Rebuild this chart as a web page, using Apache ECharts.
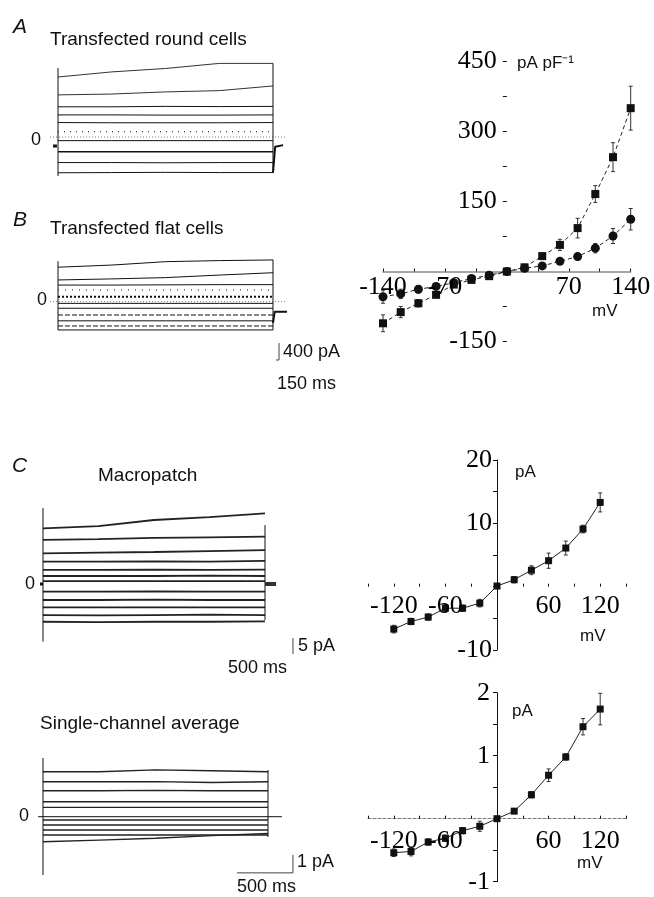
<!DOCTYPE html>
<html>
<head>
<meta charset="utf-8">
<script src="https://cdn.jsdelivr.net/npm/echarts@6/dist/echarts.min.js"></script>
<style>
  html, body { margin: 0; padding: 0; background: #fff; }
  #chart { width: 654px; height: 897px; }
</style>
</head>
<body>
<div id="chart"></div>
<script>
// ---- I-V data (mV vs pA pF-1 / pA) ----
const ivVoltsA = [-140, -120, -100, -80, -60, -40, -20, 0, 20, 40, 60, 80, 100, 120, 140];
const roundCells = [-111, -87, -68, -50, -28, -18, -10, 0, 9, 33, 57, 93, 166, 245, 350];
const roundSem = [18, 12, 8, 6, 5, 4, 3, 2, 3, 5, 12, 21, 18, 31, 47];
const flatCells = [-54, -48, -38, -32, -24, -15, -8, 0, 7, 12, 22, 32, 50, 76, 112];
const flatSem = [14, 10, 8, 6, 5, 4, 3, 2, 3, 4, 5, 7, 10, 16, 23];

const ivVoltsC = [-120, -100, -80, -60, -40, -20, 0, 20, 40, 60, 80, 100, 120];
const macroI = [-6.7, -5.5, -4.8, -3.4, -3.4, -2.6, 0.1, 1.1, 2.6, 4.1, 6.1, 9.1, 13.3];
const macroSem = [0.6, 0.5, 0.5, 0.6, 0.5, 0.6, 0.3, 0.5, 0.7, 1.2, 1.1, 0.6, 1.5];
const singleI = [-0.54, -0.52, -0.37, -0.31, -0.19, -0.12, 0, 0.12, 0.38, 0.69, 0.98, 1.46, 1.74];
const singleSem = [0.06, 0.07, 0.05, 0.05, 0.05, 0.08, 0.03, 0.03, 0.05, 0.1, 0.05, 0.13, 0.25];

// tick labels drawn beside the axes that cross at zero
const ivTicksAx = [-140, -70, 70, 140];
const ivTicksAy = [450, 300, 150, -150];
const ivTicksCx = [-120, -60, 60, 120];
const macroTicksY = [20, 10, -10];
const singleTicksY = [2, 1, -1];

// ---- current traces, read at fixed times during the pulse ----
const tAB = [0, 250, 500, 750, 1000];        // ms (A, B)
const tC = [0, 500, 1000, 1500, 2000];       // ms (macropatch, single channel)

const roundTraces = [
  [1410, 1530, 1610, 1730, 1730],
  [990, 1010, 1060, 1090, 1200],
  [710, 710, 720, 715, 720],
  [520, 520, 515, 515, 520],
  [340, 335, 335, 335, 340],
  [-85, -85, -85, -85, -85],
  [-345, -345, -345, -345, -345],
  [-600, -600, -605, -600, -600],
  [-840, -835, -830, -835, -835]
];
const roundDotted = [125, 125, 125, 125, 125];

const flatTraces = [
  [810, 860, 940, 965, 980],
  [510, 535, 565, 625, 680],
  [390, 390, 395, 400, 400],
  [-40, -40, -40, -40, -40],
  [-155, -155, -155, -155, -155],
  [-450, -450, -450, -450, -450],
  [-665, -665, -665, -665, -665]
];
const flatDotted = [[275, 275, 275, 275, 275], [118, 118, 118, 118, 118]];
const flatDashed = [[-313, -313, -313, -313, -313], [-571, -571, -571, -571, -571]];

const macroTraces = [
  [17.4, 18.1, 20.0, 20.9, 22.1],
  [13.8, 14.0, 14.4, 14.6, 14.8],
  [9.6, 9.8, 10.0, 10.3, 10.6],
  [7.0, 7.0, 7.1, 7.0, 7.2],
  [4.4, 4.4, 4.5, 4.4, 4.5],
  [2.5, 2.5, 2.5, 2.6, 2.5],
  [0.9, 0.9, 0.9, 0.9, 0.9],
  [-2.4, -2.4, -2.3, -2.4, -2.4],
  [-5.0, -5.0, -4.9, -5.0, -5.0],
  [-7.3, -7.3, -7.3, -7.3, -7.3],
  [-9.7, -9.8, -9.7, -9.6, -9.7],
  [-11.8, -11.9, -11.8, -11.8, -11.7]
];

const singleTraces = [
  [2.5, 2.5, 2.6, 2.55, 2.5],
  [1.94, 1.94, 1.95, 1.9, 1.94],
  [1.44, 1.44, 1.46, 1.44, 1.44],
  [0.83, 0.83, 0.83, 0.83, 0.83],
  [0.52, 0.52, 0.52, 0.52, 0.52],
  [-0.18, -0.18, -0.18, -0.18, -0.18],
  [-0.46, -0.46, -0.46, -0.46, -0.46],
  [-0.74, -0.74, -0.74, -0.74, -0.74],
  [-1.02, -1.02, -1.02, -1.02, -1.02],
  [-1.39, -1.3, -1.2, -1.05, -0.93]
];

const SANS = 'Liberation Sans, Arial, sans-serif';
const SERIF = 'Liberation Serif, Times New Roman, serif';
const INK = '#111';

function line(g, pts, w, type, color) {
  return {
    type: 'line', xAxisIndex: g, yAxisIndex: g, data: pts, symbol: 'none', silent: true,
    lineStyle: { width: w || 1, type: type || 'solid', color: color || INK }
  };
}
function trace(g, times, vals, w, type, color) {
  return line(g, times.map((t, i) => [t, vals[i]]), w, type, color);
}
function hidden(g, min, max) {
  return { type: 'value', gridIndex: g, min: min, max: max, show: false };
}
function ivX(g, min, max, interval, axisLine) {
  return {
    type: 'value', gridIndex: g, min: min, max: max, interval: interval,
    axisLine: Object.assign({ onZero: true }, axisLine),
    axisTick: { show: true, inside: true, length: 3, lineStyle: { color: INK } },
    axisLabel: { show: false },
    splitLine: { show: false }
  };
}
function ivY(g, min, max, interval, showLine) {
  return {
    type: 'value', gridIndex: g, min: min, max: max, interval: interval,
    axisLine: { show: showLine, onZero: true, lineStyle: { color: INK, width: 1 } },
    axisTick: { show: true, length: 4, lineStyle: { color: INK } },
    axisLabel: { show: false },
    splitLine: { show: false }
  };
}
// tick labels placed at (value, 0) or (0, value) so they sit on the crossing axes
function tickLabels(g, ticks, onX, distance) {
  return {
    type: 'scatter', xAxisIndex: g, yAxisIndex: g, symbolSize: 0, silent: true, z: 5,
    itemStyle: { opacity: 1 },
    data: ticks.map(v => onX ? [v, 0, v] : [0, v, v]),
    label: {
      show: true, position: onX ? 'bottom' : 'left', distance: distance, opacity: 1,
      formatter: p => String(p.value[2]), fontFamily: SERIF, fontSize: 26, color: '#000'
    }
  };
}
function ivSeries(g, xs, ys, symbol, size, dashed) {
  return {
    type: 'line', xAxisIndex: g, yAxisIndex: g, data: xs.map((x, i) => [x, ys[i]]),
    symbol: symbol, symbolSize: size, showSymbol: true, silent: true, z: 4,
    itemStyle: { color: INK },
    lineStyle: { width: 1, color: '#222', type: dashed ? [4, 3] : 'solid' }
  };
}
function errBars(g, xs, ys, es) {
  return {
    type: 'custom', xAxisIndex: g, yAxisIndex: g, silent: true, z: 3,
    data: xs.map((x, i) => [x, ys[i] - es[i], ys[i] + es[i]]),
    encode: { x: 0, y: [1, 2] },
    renderItem: function (params, api) {
      const lo = api.coord([api.value(0), api.value(1)]);
      const hi = api.coord([api.value(0), api.value(2)]);
      const st = { stroke: '#333', lineWidth: 1 };
      return {
        type: 'group', children: [
          { type: 'line', shape: { x1: lo[0], y1: lo[1], x2: hi[0], y2: hi[1] }, style: st },
          { type: 'line', shape: { x1: lo[0] - 2, y1: lo[1], x2: lo[0] + 2, y2: lo[1] }, style: st },
          { type: 'line', shape: { x1: hi[0] - 2, y1: hi[1], x2: hi[0] + 2, y2: hi[1] }, style: st }
        ]
      };
    }
  };
}
function txt(x, y, s, size, opt) {
  opt = opt || {};
  return {
    type: 'text', x: x, y: y, silent: true,
    style: {
      text: s, fontSize: size, fontFamily: opt.serif ? SERIF : SANS,
      fontStyle: opt.italic ? 'italic' : 'normal', fill: INK,
      align: opt.align || 'left', verticalAlign: 'middle'
    }
  };
}

const series = [];
// A: transfected round cells
roundTraces.forEach((v, i) => series.push(trace(0, tAB, v, i === 6 ? 1.6 : 1, 'solid', i < 2 ? '#333' : INK)));
series.push(trace(0, tAB, roundDotted, 1, [1, 5]));
series.push(line(0, [[-37, 0], [1056, 0]], 1, [1, 2], '#777'));
series.push(line(0, [[0, -916], [0, 1620]], 1));
series.push(line(0, [[1000, -840], [1000, 1730]], 1));
series.push(line(0, [[-23, -211], [-5, -211]], 3));
series.push(line(0, [[1000, -840], [1010, -230], [1047, -190]], 2));
// B: transfected flat cells
flatTraces.forEach(v => series.push(trace(1, tAB, v, 1)));
series.push(trace(1, tAB, flatDotted[0], 1, [1, 6]));
series.push(trace(1, tAB, flatDotted[1], 2, [2, 2]));
flatDashed.forEach(v => series.push(trace(1, tAB, v, 1, [5, 2])));
series.push(line(1, [[-37, 0], [1056, 0]], 1, [1, 2], '#777'));
series.push(line(1, [[0, -665], [0, 951]], 1));
series.push(line(1, [[1000, -665], [1000, 980]], 1));
series.push(line(1, [[1000, -500], [1008, -235], [1065, -235]], 2));
series.push(line(1, [[1014, -1371], [1028, -1371], [1028, -971]], 1, 'solid', '#444'));
// C: macropatch traces
macroTraces.forEach(v => series.push(trace(2, tC, v, 1.8, 'solid', '#222')));
series.push(line(2, [[0, -18], [0, 23.75]], 1));
series.push(line(2, [[2000, -11.25], [2000, 18.4]], 1));
series.push(line(2, [[-27, 0], [0, 0]], 3));
series.push(line(2, [[2000, 0], [2100, 0]], 4, 'solid', '#333'));
series.push(line(2, [[2252, -21.9], [2252, -16.9]], 1, 'solid', '#444'));
// C: single-channel average traces
singleTraces.forEach(v => series.push(trace(3, tC, v, 1.4, 'solid', '#222')));
series.push(line(3, [[-44, 0], [2124, 0]], 1));
series.push(line(3, [[0, -3.24], [0, 3.26]], 1));
series.push(line(3, [[2000, -1.13], [2000, 2.59]], 1));
series.push(line(3, [[1724, -3.12], [2222, -3.12], [2222, -2.12]], 1, 'solid', '#444'));
// I-V curves
series.push(errBars(4, ivVoltsA, roundCells, roundSem));
series.push(errBars(4, ivVoltsA, flatCells, flatSem));
series.push(ivSeries(4, ivVoltsA, roundCells, 'rect', 8, true));
series.push(ivSeries(4, ivVoltsA, flatCells, 'circle', 9, true));
series.push(errBars(5, ivVoltsC, macroI, macroSem));
series.push(ivSeries(5, ivVoltsC, macroI, 'rect', 7, false));
series.push(errBars(6, ivVoltsC, singleI, singleSem));
series.push(ivSeries(6, ivVoltsC, singleI, 'rect', 7, false));
series.push(tickLabels(4, ivTicksAx, true, 3));
series.push(tickLabels(4, ivTicksAy, false, 10));
series.push(tickLabels(5, ivTicksCx, true, 7));
series.push(tickLabels(5, macroTicksY, false, 5));
series.push(tickLabels(6, ivTicksCx, true, 9));
series.push(tickLabels(6, singleTicksY, false, 7));

const option = {
  animation: false,
  backgroundColor: '#fff',
  grid: [
    { left: 36.5, top: 51.9, width: 268.75, height: 136.2 },
    { left: 36.5, top: 250.6, width: 268.75, height: 114.9 },
    { left: 31.9, top: 504, width: 299.7, height: 160 },
    { left: 31.75, top: 744.7, width: 303.75, height: 144 },
    { left: 383, top: 61.5, width: 247.7, height: 280 },
    { left: 368, top: 460, width: 258, height: 190 },
    { left: 368, top: 692.7, width: 258, height: 189 }
  ],
  xAxis: [
    hidden(0, -100, 1150), hidden(1, -100, 1150), hidden(2, -100, 2600), hidden(3, -100, 2600),
    ivX(4, -140, 140, 35, { show: true, lineStyle: { color: '#888', width: 1.5 } }),
    ivX(5, -150, 150, 30, { show: false }),
    ivX(6, -150, 150, 30, { show: true, lineStyle: { color: '#777', width: 1, type: [3, 2] } })
  ],
  yAxis: [
    hidden(0, -1200, 2000), hidden(1, -1500, 1200), hidden(2, -25, 25), hidden(3, -4, 4),
    ivY(4, -150, 450, 75, false),
    ivY(5, -10, 20, 5, true),
    ivY(6, -1, 2, 0.5, true)
  ],
  series: series,
  graphic: [
    txt(13, 27, 'A', 21, { italic: true }),
    txt(50, 40, 'Transfected round cells', 19),
    txt(13, 220, 'B', 21, { italic: true }),
    txt(50, 229, 'Transfected flat cells', 19),
    txt(12, 466, 'C', 21, { italic: true }),
    txt(98, 476, 'Macropatch', 19),
    txt(40, 724, 'Single-channel average', 19),
    txt(36, 140, '0', 18, { align: 'center' }),
    txt(42, 300, '0', 18, { align: 'center' }),
    txt(30, 584, '0', 18, { align: 'center' }),
    txt(24, 816, '0', 18, { align: 'center' }),
    txt(283, 352, '400 pA', 18),
    txt(277, 384, '150 ms', 18),
    txt(298, 646, '5 pA', 18),
    txt(228, 668, '500 ms', 18),
    txt(297, 862, '1 pA', 18),
    txt(237, 887, '500 ms', 18),
    txt(517, 63, 'pA pF\u207B\u00B9', 17),
    txt(592, 311, 'mV', 17),
    txt(515, 472, 'pA', 17),
    txt(580, 636, 'mV', 17),
    txt(512, 711, 'pA', 17),
    txt(577, 863, 'mV', 17)
  ]
};

const chart = echarts.init(document.getElementById('chart'));
chart.setOption(option);
</script>
</body>
</html>
